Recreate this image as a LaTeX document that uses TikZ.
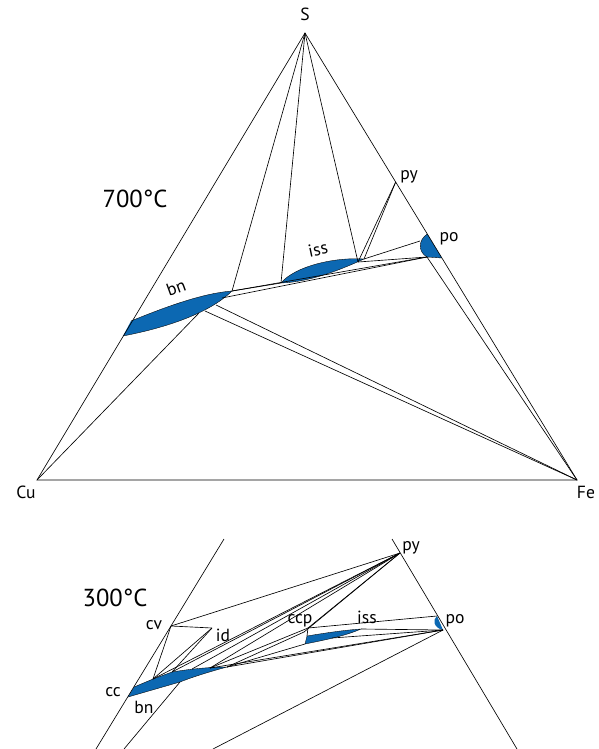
\documentclass[tikz,border=0pt]{standalone}
\usepackage{fontspec}
\setmainfont{PT Sans}
\usetikzlibrary{calc}
\definecolor{phaseblue}{RGB}{12,104,178}

\begin{document}
\begin{tikzpicture}[x=0.03cm, y=-0.03cm,
  lbl/.style={font=\fontsize{15}{15}\selectfont, inner sep=0pt},
  temp/.style={font=\fontsize{21}{21}\selectfont, inner sep=0pt},
  tie/.style={line width=0.55pt},
  phase/.style={fill=phaseblue, draw=black, line width=0.3pt}]
  \useasboundingbox (0,0) rectangle (599,749);

  % ---- 700 C ----
  \coordinate (S) at (305,33);
  \coordinate (Cu) at (37,480);
  \coordinate (Fe) at (577,480);
  \coordinate (py) at (395.7,182);
  \coordinate (bnA) at (131,321);
  \coordinate (bnB) at (123,336);
  \coordinate (bnR) at (232,291);
  \coordinate (bnT) at (222,298);
  \coordinate (bnD) at (216,305);
  \coordinate (bnE) at (205,311);
  \coordinate (bnC) at (199,313);
  \coordinate (issL) at (281,283);
  \coordinate (issR) at (358,262);
  \coordinate (issQ) at (364,259);
  \coordinate (poT) at (427.3,234);
  \coordinate (poL) at (420,241);
  \coordinate (poB) at (427,257);
  \coordinate (poE) at (441.9,258);

  \fill[phaseblue] (bnA) .. controls (170,305) and (205,293) .. (bnR)
    .. controls (215,308) and (180,325) .. (bnB) -- cycle;
  \draw[line width=0.3pt] (bnA) .. controls (170,305) and (205,293) .. (bnR)
    .. controls (215,308) and (180,325) .. (bnB);
  \fill[phaseblue] (issL) .. controls (295,266) and (335,257) .. (issQ)
    .. controls (340,270) and (310,282) .. (issL);
  \draw[line width=0.3pt] (issL) .. controls (295,266) and (335,257) .. (issQ)
    .. controls (340,270) and (310,282) .. (issL);
  \fill[phaseblue] (poT) .. controls (418,240) and (418,252) .. (poB) -- (poE) -- cycle;
  \draw[line width=0.3pt] (poT) .. controls (418,240) and (418,252) .. (poB) -- (poE);

  \draw[tie] (S) -- (Cu) -- (Fe) -- cycle;
  \draw[tie] (S) -- (bnR);
  \draw[tie] (S) -- (issL);
  \draw[tie] (S) -- (issR);
  \draw[tie] (py) -- (issR);
  \draw[tie] (py) -- (issQ);
  \draw[tie] (issQ) -- (poL);
  \draw[tie] (issR) -- (poB);
  \draw[tie] (bnR) -- (issL);
  \draw[tie] (bnR) -- (poB);
  \draw[tie] (bnT) -- (poB);
  \draw[tie] (bnD) -- (Fe);
  \draw[tie] (bnE) -- (Fe);
  \draw[tie] (Cu) -- (bnC);
  \draw[tie] (poB) -- (Fe);

  \node[lbl] (lS) at (305,14) {S};
  \node[lbl] (lpy) at (409,177) {py};
  \node[lbl] (lpo) at (449,239) {po};
  \node[lbl, rotate=12] (liss) at (318,249) {iss};
  \node[lbl, rotate=20] (lbn) at (176,288) {bn};
  \node[lbl] (lCu) at (26,492) {Cu};
  \node[lbl] (lFe) at (586,492) {Fe};
  \node[temp] (t700) at (135,199) {700°C};

  % ---- 300 C ----
  \coordinate (lTop) at (224,539);
  \coordinate (lBot) at (96,749);
  \coordinate (rTop) at (392,539);
  \coordinate (rBot) at (517,749);
  \coordinate (py2) at (400,553);
  \coordinate (cv) at (171,626);
  \coordinate (id) at (212,628);
  \coordinate (ccp) at (308,628);
  \coordinate (ccq) at (304,632);
  \coordinate (iL) at (307,636);
  \coordinate (iLb) at (305,644);
  \coordinate (iB) at (332,638);
  \coordinate (iR) at (361,629);
  \coordinate (pT) at (437,616);
  \coordinate (pB) at (443,630);
  \coordinate (ccT) at (134,687);
  \coordinate (ccB) at (128,697);
  \coordinate (b1) at (153,679);
  \coordinate (b2) at (172,672);
  \coordinate (b3) at (192,669);
  \coordinate (b4) at (210,668);
  \coordinate (w) at (227,667);
  \coordinate (bnb) at (180,682);
  \coordinate (cuA) at (124,749);
  \coordinate (cuB) at (213,749);

  \fill[phaseblue] (ccT) -- (b1) -- (b2) .. controls (190,669) and (210,667) .. (w)
    .. controls (205,673) and (190,678) .. (bnb) -- (ccB) -- cycle;
  \draw[line width=0.3pt] (ccT) -- (b1) -- (b2) .. controls (190,669) and (210,667) .. (w)
    .. controls (205,673) and (190,678) .. (bnb) -- (ccB);
  \fill[phaseblue] (iL) .. controls (325,633) and (345,630) .. (iR)
    .. controls (345,636) and (325,640) .. (iLb) -- cycle;
  \draw[line width=0.3pt] (iL) .. controls (325,633) and (345,630) .. (iR)
    .. controls (345,636) and (325,640) .. (iLb) -- cycle;
  \fill[phaseblue] (pT) .. controls (432,620) and (434,628) .. (pB) -- cycle;

  \draw[tie] (lBot) -- (lTop);
  \draw[tie] (rTop) -- (rBot);
  \draw[tie] (py2) -- (cv);
  \draw[tie] (cv) -- (id);
  \draw[tie] (cv) -- (b1);
  \draw[tie] (id) -- (b1);
  \draw[tie] (id) -- (b2);
  \draw[tie] (py2) -- (b1);
  \draw[tie] (py2) -- (b2);
  \draw[tie] (py2) -- (b3);
  \draw[tie] (py2) -- (b4);
  \draw[tie] (py2) -- (ccp);
  \draw[tie] (py2) -- (ccq);
  \draw[tie] (ccp) -- (iL);
  \draw[tie] (ccp) -- (pT);
  \draw[tie] (ccp) -- (b4);
  \draw[tie] (ccq) -- (w);
  \draw[tie] (iLb) -- (w);
  \draw[tie] (iR) -- (pB);
  \draw[tie] (iB) -- (pB);
  \draw[tie] (w) -- (pB);
  \draw[tie] (b4) -- (pB);
  \draw[tie] (cuB) -- (pB);
  \draw[tie] (cuA) -- (bnb);

  \node[lbl] (lpy2) at (411,548) {py};
  \node[lbl] (lpo2) at (455,621) {po};
  \node[lbl] (liss2) at (367,617) {iss};
  \node[lbl] (lccp) at (300,621) {ccp};
  \node[lbl] (lid) at (223,635) {id};
  \node[lbl] (lcv) at (154,625) {cv};
  \node[lbl] (lcc) at (113,692) {cc};
  \node[lbl] (lbn2) at (144,707) {bn};
  \node[temp] (t300) at (115,598) {300°C};
\end{tikzpicture}
\end{document}
